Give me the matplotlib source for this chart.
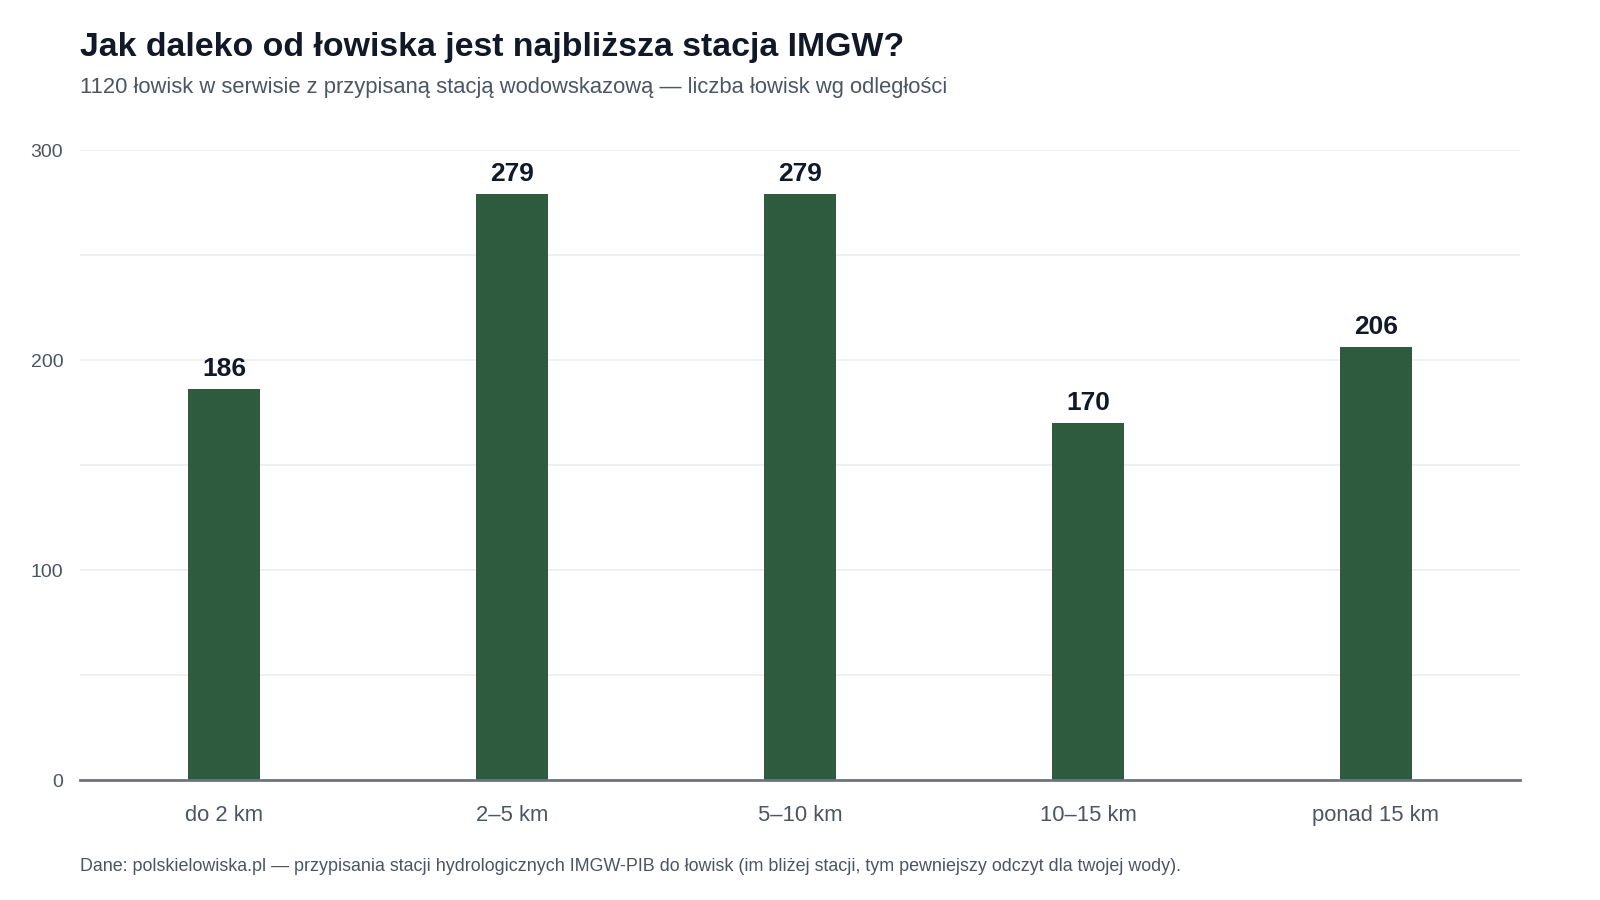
import matplotlib
matplotlib.use("Agg")
import matplotlib.pyplot as plt
from matplotlib.ticker import MultipleLocator

plt.rcParams['font.family'] = ['Liberation Sans', 'DejaVu Sans']

categories = ["do 2 km", "2–5 km", "5–10 km", "10–15 km", "ponad 15 km"]
counts = [186, 279, 279, 170, 206]

title = "Jak daleko od łowiska jest najbliższa stacja IMGW?"
subtitle = "1120 łowisk w serwisie z przypisaną stacją wodowskazową — liczba łowisk wg odległości"
footer = ("Dane: polskielowiska.pl — przypisania stacji hydrologicznych IMGW-PIB do łowisk "
          "(im bliżej stacji, tym pewniejszy odczyt dla twojej wody).")

bar_color = "#2e5b3d"
dark = "#111827"
grey = "#4b5563"

fig = plt.figure(figsize=(16, 9), dpi=100)
ax = fig.add_axes([0.05, 0.1333, 0.90, 0.70])

x = range(len(categories))
bars = ax.bar(x, counts, width=0.25, color=bar_color, zorder=3)

for b, v in zip(bars, counts):
    ax.annotate(str(v), (b.get_x() + b.get_width() / 2, v), xytext=(0, 6),
                textcoords="offset points", ha="center", va="bottom",
                fontsize=19, fontweight="bold", color=dark)

ax.set_xlim(-0.5, len(categories) - 0.5)
ax.set_ylim(0, 300)
ax.yaxis.set_major_locator(MultipleLocator(100))
ax.yaxis.set_minor_locator(MultipleLocator(50))
ax.grid(axis="y", which="both", color="#eeeeee", linewidth=1.2, zorder=0)
ax.set_xticks(list(x))
ax.set_xticklabels(categories)

for s in ["top", "right", "left"]:
    ax.spines[s].set_visible(False)
ax.spines["bottom"].set_color("#6b7280")
ax.spines["bottom"].set_linewidth(2)
ax.spines["bottom"].set_zorder(4)

ax.tick_params(axis="x", length=0, pad=18, labelsize=15.8, labelcolor=grey)
ax.tick_params(axis="y", which="both", length=0, pad=12, labelsize=14, labelcolor=grey)

fig.text(0.05, 0.947, title, fontsize=24.4, fontweight="bold", color=dark, va="center")
fig.text(0.05, 0.903, subtitle, fontsize=15.8, color=grey, va="center")
fig.text(0.05, 0.037, footer, fontsize=12.9, color=grey, va="center")

fig.savefig("out.png", dpi=100, facecolor="white")
